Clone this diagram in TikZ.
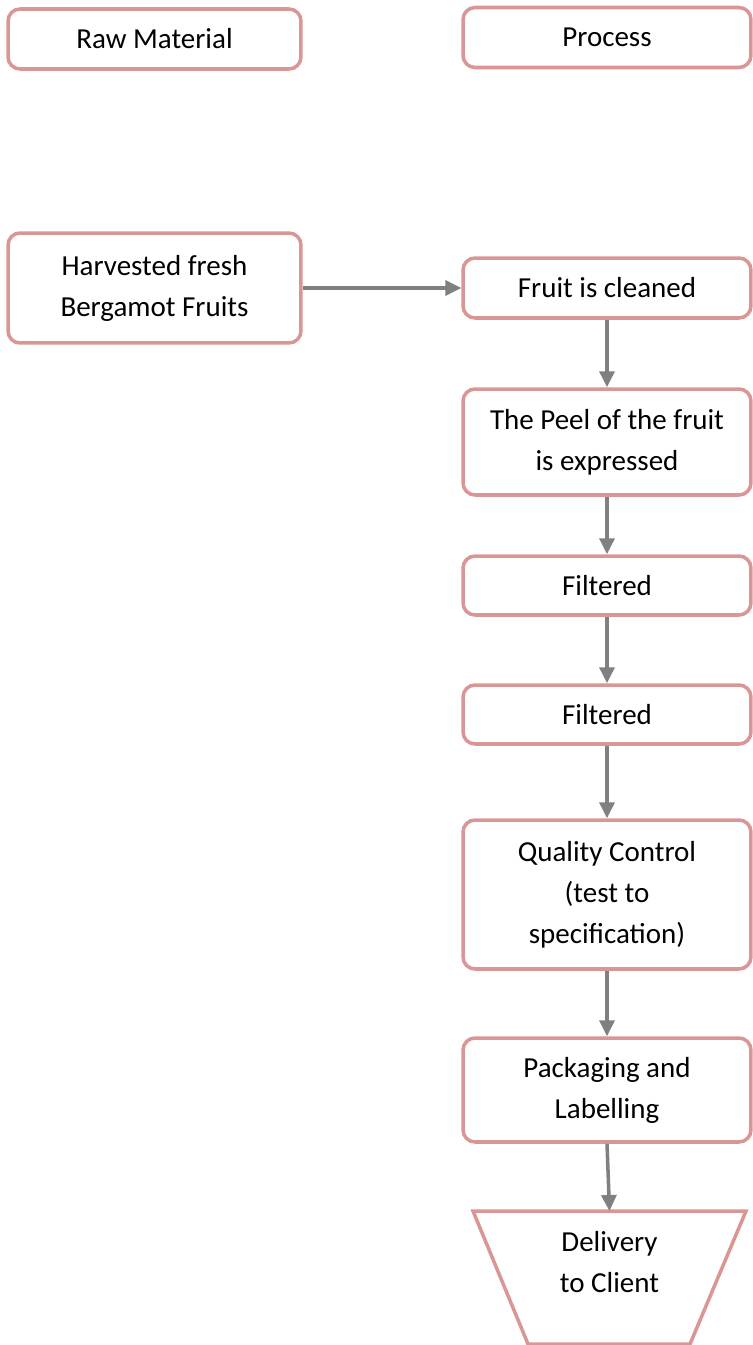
\documentclass[tikz,border=0pt]{standalone}
\usepackage{fontspec}
\setmainfont{Carlito}
\usepackage{tikz}
\usetikzlibrary{arrows,arrows.meta,shapes,positioning}
\usepackage{xcolor}
\definecolor{rmpink}{RGB}{217,150,148}
\definecolor{rmgray}{RGB}{128,128,128}
\tikzstyle{process} = [rectangle, rounded corners=0.24cm, minimum width=5.76cm, minimum height=1.2cm, text centered, align=center, draw=rmpink, fill=white, line width=2pt, inner sep=0pt, font=\fontsize{16.5}{23.3}\selectfont]
\tikzstyle{arrow} = [line width=2pt,-{Triangle[length=0.32cm,width=0.3cm]},color=rmgray]

\begin{document}
\begin{tikzpicture}[x=0.02cm, y=-0.02cm]
\useasboundingbox (0,0) rectangle (752,1345);
\node (rawmat) [process, minimum width=5.86cm] at (154.5,39) {Raw Material};
\node (process) [process] at (607,37.5) {Process};
\node (harvest) [process, minimum width=5.86cm, minimum height=2.2cm] at (154.5,288) {Harvested fresh\\Bergamot Fruits};
\node (cleaned) [process] at (607,288) {Fruit is cleaned};
\node (peel) [process, minimum height=2.12cm] at (607,442) {The Peel of the fruit\\is expressed};
\node (filter1) [process, minimum height=1.18cm] at (607,585.5) {Filtered};
\node (filter2) [process, minimum height=1.18cm] at (607,714.5) {Filtered};
\node (quality) [process, minimum height=2.98cm] at (607,894.5) {Quality Control\\(test to\\specification)};
\node (packing) [process, minimum height=2.08cm] at (607,1090) {Packaging and\\Labelling};
\draw [draw=rmpink, line width=2pt, line join=miter] (473,1211) -- (746,1211) -- (690,1344) -- (528,1344) -- cycle;
\coordinate (deltop) at (609.5,1211);
\node (delivery) [align=center, font=\fontsize{16.5}{23.3}\selectfont] at (609.5,1262) {Delivery\\to Client};
\draw [arrow] (harvest.east) -- (cleaned.west);
\draw [arrow] (cleaned.south) -- (peel.north);
\draw [arrow] (peel.south) -- (filter1.north);
\draw [arrow] (filter1.south) -- (filter2.north);
\draw [arrow] (filter2.south) -- (quality.north);
\draw [arrow] (quality.south) -- (packing.north);
\draw [arrow] (packing.south) -- (deltop);
\end{tikzpicture}
\end{document}
